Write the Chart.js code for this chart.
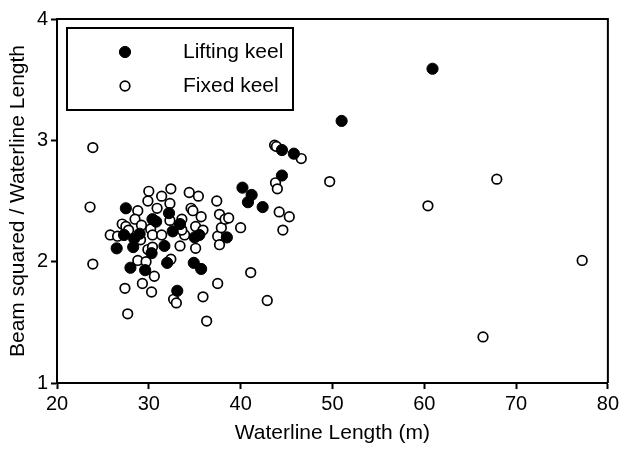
<!DOCTYPE html>
<html>
<head>
<meta charset="utf-8">
<script src="https://cdn.jsdelivr.net/npm/chart.js@4.4.0/dist/chart.umd.min.js"></script>
<style>
  html, body { margin: 0; padding: 0; background: #fff; }
  #wrap { width: 622px; height: 449px; }
</style>
</head>
<body>
<div id="wrap"><canvas id="scatterChart" width="622" height="449"></canvas></div>
<script>
// Data
const liftingX = [60.9, 51.0, 44.5, 45.8, 44.5, 40.2, 41.2, 40.8, 42.4, 38.5, 27.5, 32.2, 30.8, 30.4, 33.4, 32.6,
  27.3, 29.0, 28.3, 26.5, 28.0, 29.6, 30.3, 31.7, 32.0, 34.9, 35.7, 35.0, 35.5, 33.1, 28.4];
const liftingY = [3.59, 3.16, 2.92, 2.89, 2.71, 2.61, 2.55, 2.49, 2.45, 2.20, 2.44, 2.40, 2.33, 2.35, 2.31, 2.25,
  2.22, 2.23, 2.12, 2.11, 1.95, 1.93, 2.07, 2.13, 1.99, 1.99, 1.94, 2.20, 2.22, 1.76, 2.19];

const fixedX = [23.9, 23.6, 23.9, 25.8, 26.6, 27.1, 27.5, 27.8, 27.4, 27.7, 28.8, 28.5, 29.2, 29.1, 28.8, 29.3,
  30.0, 29.9, 29.9, 29.7, 30.3, 30.6, 30.4, 30.2, 30.4, 30.9, 31.4, 31.4, 32.4, 32.3, 32.3, 32.4,
  32.7, 33.0, 33.4, 33.6, 33.9, 33.6, 34.4, 34.6, 34.8, 35.1, 35.1, 35.4, 35.7, 35.9, 35.9, 36.3,
  37.4, 37.7, 37.5, 37.7, 37.9, 37.5, 38.3, 38.7, 40.0, 41.1, 42.9, 43.7, 43.9, 43.8, 44.0, 44.2,
  44.6, 45.3, 46.6, 49.7, 60.4, 67.9, 66.4, 77.2];
const fixedY = [2.94, 2.45, 1.98, 2.22, 2.21, 2.31, 2.29, 2.26, 1.78, 1.57, 2.42, 2.35, 2.30, 2.18, 2.01, 1.82,
  2.58, 2.50, 2.10, 2.00, 1.75, 1.88, 2.12, 2.27, 2.22, 2.44, 2.54, 2.22, 2.60, 2.48, 2.34, 2.02,
  1.69, 1.66, 2.13, 2.35, 2.22, 2.26, 2.57, 2.44, 2.42, 2.29, 2.11, 2.54, 2.37, 2.26, 1.71, 1.51,
  2.50, 2.39, 2.21, 2.14, 2.28, 1.82, 2.35, 2.36, 2.28, 1.91, 1.68, 2.96, 2.95, 2.65, 2.60, 2.41,
  2.26, 2.37, 2.85, 2.66, 2.46, 2.68, 1.38, 2.01];

const xTicks = [20, 30, 40, 50, 60, 70, 80];
const yTicks = [1, 2, 3, 4];

const toPoints = (xs, ys) => xs.map((x, i) => ({ x: x, y: ys[i] }));

const FONT = "'Liberation Sans', Arial, sans-serif";

// frame round the plot + boxed legend in the top left corner
const framePlugin = {
  id: 'frame',
  afterDatasetsDraw(chart) {
    const { ctx, chartArea: a } = chart;
    ctx.save();
    ctx.strokeStyle = '#000';
    ctx.lineWidth = 2;
    ctx.beginPath();
    ctx.moveTo(a.left, a.top);
    ctx.lineTo(a.right, a.top);
    ctx.lineTo(a.right, a.bottom);
    ctx.stroke();

    // legend
    const bx = a.left + 10, by = a.top + 9, bw = 226, bh = 82;
    ctx.fillStyle = '#fff';
    ctx.fillRect(bx, by, bw, bh);
    ctx.strokeRect(bx, by, bw, bh);
    ctx.font = '21px ' + FONT;
    ctx.textBaseline = 'middle';
    chart.data.datasets.forEach((ds, i) => {
      const cy = by + 24 + i * 34;
      ctx.beginPath();
      ctx.arc(bx + 58, cy, ds.pointRadius, 0, Math.PI * 2);
      ctx.fillStyle = ds.backgroundColor;
      ctx.fill();
      ctx.lineWidth = ds.borderWidth;
      ctx.strokeStyle = '#000';
      ctx.stroke();
      ctx.fillStyle = '#000';
      ctx.textAlign = 'left';
      ctx.fillText(ds.label, bx + 116, cy);
    });
    ctx.restore();
  }
};

const ctx = document.getElementById('scatterChart').getContext('2d');
const chart = new Chart(ctx, {
  type: 'scatter',
  data: {
    datasets: [{
      label: 'Lifting keel',
      data: toPoints(liftingX, liftingY),
      backgroundColor: '#000',
      borderColor: '#000',
      borderWidth: 1,
      pointRadius: 5.6
    }, {
      label: 'Fixed keel',
      data: toPoints(fixedX, fixedY),
      backgroundColor: '#fff',
      borderColor: '#000',
      borderWidth: 1.7,
      pointRadius: 4.8
    }]
  },
  options: {
    responsive: false,
    animation: false,
    layout: { padding: { top: 19, right: 14, left: 0, bottom: 0 } },
    plugins: { legend: { display: false }, tooltip: { enabled: false } },
    scales: {
      x: {
        type: 'linear',
        min: 20, max: 80,
        afterBuildTicks: (s) => { s.ticks = xTicks.map(v => ({ value: v })); },
        afterFit: (s) => { s.height = 66; },
        grid: { drawOnChartArea: false, color: '#000', tickLength: 6, tickWidth: 2 },
        border: { color: '#000', width: 2 },
        ticks: { color: '#000', font: { family: FONT, size: 20 }, padding: 3, maxRotation: 0 },
        title: { display: true, text: 'Waterline Length (m)', color: '#000', font: { family: FONT, size: 21 }, padding: { top: 0, bottom: 3 } }
      },
      y: {
        type: 'linear',
        min: 1, max: 4,
        afterBuildTicks: (s) => { s.ticks = yTicks.map(v => ({ value: v })); },
        afterFit: (s) => { s.width = 57; },
        grid: { drawOnChartArea: false, color: '#000', tickLength: 6, tickWidth: 2 },
        border: { color: '#000', width: 2 },
        ticks: { color: '#000', font: { family: FONT, size: 20 }, padding: 3 },
        title: { display: true, text: 'Beam squared / Waterline Length', color: '#000', font: { family: FONT, size: 21 }, padding: { top: 6, bottom: 0 } }
      }
    }
  },
  plugins: [framePlugin]
});
</script>
</body>
</html>
